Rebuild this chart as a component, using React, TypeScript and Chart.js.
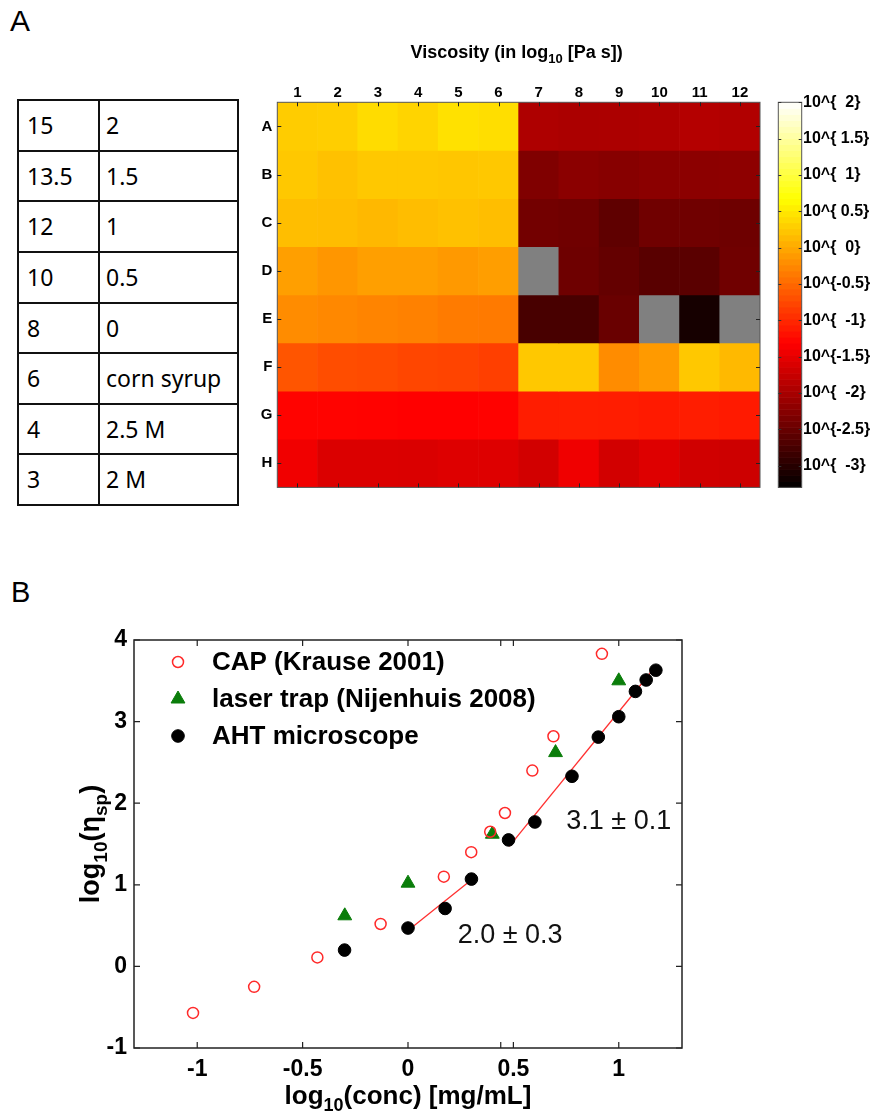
import React, { useEffect, useRef } from 'react';
import { Chart, registerables } from 'chart.js';
import { drawPoint } from 'chart.js/helpers';

Chart.register(...registerables);

const SANS = '"Liberation Sans", Arial, Helvetica, sans-serif';

// ---------- Panel A: table ----------
const tableConc = ['15', '13.5', '12', '10', '8', '6', '4', '3'];
const tableSolvent = ['2', '1.5', '1', '0.5', '0', 'corn syrup', '2.5 M', '2 M'];

// ---------- Panel A: heatmap (log10 values, null = no data) ----------
const heatColumns = ['1', '2', '3', '4', '5', '6', '7', '8', '9', '10', '11', '12'];
const heatRows = ['A', 'B', 'C', 'D', 'E', 'F', 'G', 'H'];
const rowA = [0.28, 0.29, 0.4, 0.34, 0.44, 0.42, -1.94, -1.97, -1.96, -1.94, -1.9, -1.92];
const rowB = [0.25, 0.19, 0.25, 0.25, 0.23, 0.25, -2.3, -2.22, -2.25, -2.22, -2.21, -2.19];
const rowC = [0.17, 0.16, 0.12, 0.16, 0.19, 0.17, -2.4, -2.43, -2.56, -2.43, -2.43, -2.44];
const rowD = [-0.07, -0.14, -0.07, -0.07, -0.12, -0.08, null, -2.44, -2.52, -2.61, -2.6, -2.43];
const rowE = [-0.22, -0.25, -0.28, -0.31, -0.35, -0.36, -2.74, -2.74, -2.48, null, -3.13, null];
const rowF = [-0.65, -0.71, -0.73, -0.77, -0.78, -0.82, 0.25, 0.25, -0.22, -0.11, 0.25, 0.13];
const rowG = [-1.29, -1.29, -1.3, -1.31, -1.31, -1.3, -1.09, -1.08, -1.09, -1.11, -1.09, -1.11];
const rowH = [-1.42, -1.59, -1.59, -1.6, -1.57, -1.57, -1.66, -1.43, -1.66, -1.57, -1.68, -1.7];
const heatValues: (number | null)[][] = [rowA, rowB, rowC, rowD, rowE, rowF, rowG, rowH];

const cbMin = -3.3;
const cbMax = 2;
const cbTicks = [2, 1.5, 1, 0.5, 0, -0.5, -1, -1.5, -2, -2.5, -3];
const cbTickLabels = [
  '10^{  2}', '10^{ 1.5}', '10^{  1}', '10^{ 0.5}', '10^{  0}', '10^{-0.5}',
  '10^{  -1}', '10^{-1.5}', '10^{  -2}', '10^{-2.5}', '10^{  -3}',
];

// ---------- Panel B: scatter ----------
const capX = [-1.02, -0.73, -0.43, -0.13, 0.17, 0.3, 0.39, 0.46, 0.59, 0.69, 0.92];
const capY = [-0.57, -0.25, 0.11, 0.52, 1.1, 1.4, 1.65, 1.88, 2.4, 2.82, 3.83];
const laserX = [-0.3, 0.0, 0.4, 0.7, 1.0];
const laserY = [0.62, 1.02, 1.62, 2.62, 3.5];
const ahtX = [-0.301, 0.0, 0.176, 0.301, 0.477, 0.602, 0.778, 0.903, 1.0, 1.079, 1.13, 1.176];
const ahtY = [0.2, 0.47, 0.71, 1.07, 1.55, 1.77, 2.33, 2.81, 3.06, 3.37, 3.51, 3.63];
const fit1X = [0.0, 0.3];
const fit1Y = [0.44, 1.06];
const fit2X = [0.48, 1.17];
const fit2Y = [1.47, 3.66];
const xTicks = [-1, -0.5, 0, 0.44, 0.5, 1];
const xTickLabels = ['-1', '-0.5', '0', '', '0.5', '1'];
const yTicks = [-1, 0, 1, 2, 3, 4];
const slopeLabels = ['2.0 \u00b1 0.3', '3.1 \u00b1 0.1'];
const slopeLabelX = [0.236, 0.751];
const slopeLabelY = [0.377, 1.776];

function clamp01(v: number) {
  return Math.max(0, Math.min(1, v));
}

function hotColor(v: number | null) {
  if (v === null || Number.isNaN(v)) return 'rgb(128,128,128)';
  const t = clamp01((v - cbMin) / (cbMax - cbMin));
  const r = clamp01(t / 0.375);
  const g = clamp01((t - 0.375) / 0.375);
  const b = clamp01((t - 0.75) / 0.25);
  return `rgb(${Math.round(r * 255)},${Math.round(g * 255)},${Math.round(b * 255)})`;
}

type Part = { text: string; sub?: boolean };

function drawParts(ctx: CanvasRenderingContext2D, parts: Part[], cx: number, baseline: number, size: number, weight: string) {
  const subSize = Math.round(size * 0.7);
  const widths = parts.map((p) => {
    ctx.font = `${weight} ${p.sub ? subSize : size}px ${SANS}`;
    return ctx.measureText(p.text).width;
  });
  const total = widths.reduce((a, b) => a + b, 0);
  let x = cx - total / 2;
  ctx.textAlign = 'left';
  ctx.textBaseline = 'alphabetic';
  parts.forEach((p, i) => {
    ctx.font = `${weight} ${p.sub ? subSize : size}px ${SANS}`;
    ctx.fillText(p.text, x, baseline + (p.sub ? size * 0.28 : 0));
    x += widths[i];
  });
}

const noGrid = { display: false, drawTicks: false, tickLength: 0 };

const heatPlugin = {
  id: 'heatDecor',
  afterDraw(chart: any) {
    const { ctx, chartArea: ca, scales } = chart;
    const xs = scales.x;
    const ys = scales.y;
    const cb = scales.cb;
    ctx.save();
    // frame
    ctx.strokeStyle = '#555';
    ctx.lineWidth = 1;
    ctx.strokeRect(ca.left, ca.top, ca.right - ca.left, ca.bottom - ca.top);
    // ticks
    ctx.strokeStyle = '#222';
    ctx.beginPath();
    heatColumns.forEach((_, i) => {
      const px = Math.round(xs.getPixelForValue(i)) + 0.5;
      ctx.moveTo(px, ca.top);
      ctx.lineTo(px, ca.top + 4);
      ctx.moveTo(px, ca.bottom);
      ctx.lineTo(px, ca.bottom - 4);
    });
    heatRows.forEach((_, r) => {
      const py = Math.round(ys.getPixelForValue(r + 0.5)) + 0.5;
      ctx.moveTo(ca.left, py);
      ctx.lineTo(ca.left + 4, py);
      ctx.moveTo(ca.right, py);
      ctx.lineTo(ca.right - 4, py);
    });
    ctx.stroke();

    // colorbar
    const x0 = ca.right + 18.3;
    const w = 23.4;
    const n = 64;
    for (let i = 0; i < n; i++) {
      const v0 = cbMin + ((cbMax - cbMin) * i) / n;
      const v1 = cbMin + ((cbMax - cbMin) * (i + 1)) / n;
      const yTop = cb.getPixelForValue(v1);
      const yBot = cb.getPixelForValue(v0);
      ctx.fillStyle = hotColor((v0 + v1) / 2);
      ctx.fillRect(x0, yTop, w, yBot - yTop + 0.6);
    }
    ctx.strokeStyle = '#555';
    ctx.strokeRect(x0, cb.getPixelForValue(cbMax), w, cb.getPixelForValue(cbMin) - cb.getPixelForValue(cbMax));
    ctx.strokeStyle = '#333';
    ctx.beginPath();
    cbTicks.forEach((v) => {
      const py = Math.round(cb.getPixelForValue(v)) + 0.5;
      ctx.moveTo(x0, py);
      ctx.lineTo(x0 + 3, py);
      ctx.moveTo(x0 + w, py);
      ctx.lineTo(x0 + w - 3, py);
    });
    ctx.stroke();

    // title
    ctx.fillStyle = '#000';
    drawParts(
      ctx,
      [{ text: 'Viscosity (in log' }, { text: '10', sub: true }, { text: ' [Pa s])' }],
      (ca.left + ca.right) / 2 - 2,
      58,
      18,
      'bold'
    );
    ctx.restore();
  },
};

function HeatmapChart() {
  const ref = useRef<HTMLCanvasElement | null>(null);
  useEffect(() => {
    if (!ref.current) return;
    const datasets = heatRows.map((row, r) => ({
      label: row,
      data: heatColumns.map(() => [r, r + 1]),
      backgroundColor: heatValues[r].map((v) => hotColor(v)),
      borderWidth: 0,
      grouped: false,
      barPercentage: 1,
      categoryPercentage: 1,
    }));
    const chart = new Chart(ref.current, {
      type: 'bar',
      data: { labels: heatColumns, datasets: datasets as any },
      options: {
        responsive: false,
        animation: false,
        devicePixelRatio: 1,
        layout: { padding: { left: 0, top: 0, right: 0, bottom: 32.7 } },
        plugins: { legend: { display: false }, tooltip: { enabled: false } },
        scales: {
          x: {
            type: 'category',
            position: 'top',
            offset: true,
            grid: noGrid,
            border: { display: false },
            ticks: {
              color: '#000',
              padding: 0,
              maxRotation: 0,
              autoSkip: false,
              font: { family: SANS, size: 15, weight: 'bold' },
            },
            afterFit: (s: any) => {
              s.height = 102.3;
            },
          },
          y: {
            type: 'linear',
            min: 0,
            max: 8,
            reverse: true,
            position: 'left',
            grid: noGrid,
            border: { display: false },
            afterBuildTicks: (s: any) => {
              s.ticks = heatRows.map((_, i) => ({ value: i + 0.5 }));
            },
            ticks: {
              color: '#000',
              padding: 5,
              autoSkip: false,
              font: { family: SANS, size: 15, weight: 'bold' },
              callback: (v: any) => heatRows[Math.floor(Number(v))] ?? '',
            },
            afterFit: (s: any) => {
              s.width = 37.3;
            },
          },
          cb: {
            type: 'linear',
            axis: 'y',
            min: cbMin,
            max: cbMax,
            position: 'right',
            grid: noGrid,
            border: { display: false },
            afterBuildTicks: (s: any) => {
              s.ticks = cbTicks.map((v) => ({ value: v }));
            },
            ticks: {
              color: '#000',
              padding: 43,
              autoSkip: false,
              font: { family: SANS, size: 16, weight: 'bold' },
              callback: (v: any) => {
                const i = cbTicks.indexOf(Number(v));
                return i >= 0 ? cbTickLabels[i] : '';
              },
            },
            afterFit: (s: any) => {
              s.width = 115;
            },
          },
        } as any,
      },
      plugins: [heatPlugin],
    });
    return () => chart.destroy();
  }, []);
  return (
    <canvas
      ref={ref}
      width={635}
      height={540}
      style={{ position: 'absolute', left: 240, top: 0, width: 635, height: 540, display: 'block' }}
    />
  );
}

const scatterPlugin = {
  id: 'scatterDecor',
  afterDraw(chart: any) {
    const { ctx, chartArea: ca, scales } = chart;
    const xs = scales.x;
    const ys = scales.y;
    ctx.save();
    // frame
    ctx.strokeStyle = '#222';
    ctx.lineWidth = 1.5;
    ctx.strokeRect(ca.left, ca.top, ca.right - ca.left, ca.bottom - ca.top);
    // ticks
    ctx.lineWidth = 1.2;
    ctx.beginPath();
    xTicks.forEach((v) => {
      const px = xs.getPixelForValue(v);
      ctx.moveTo(px, ca.bottom);
      ctx.lineTo(px, ca.bottom - 6);
      ctx.moveTo(px, ca.top);
      ctx.lineTo(px, ca.top + 6);
    });
    yTicks.forEach((v) => {
      const py = ys.getPixelForValue(v);
      ctx.moveTo(ca.left, py);
      ctx.lineTo(ca.left + 6, py);
      ctx.moveTo(ca.right, py);
      ctx.lineTo(ca.right - 6, py);
    });
    ctx.stroke();

    // legend
    const rowsY = [ca.top + 22, ca.top + 59, ca.top + 96];
    for (let i = 0; i < 3; i++) {
      const ds = chart.data.datasets[i];
      ctx.fillStyle = ds.backgroundColor;
      ctx.strokeStyle = ds.borderColor;
      ctx.lineWidth = ds.borderWidth;
      drawPoint(ctx, { pointStyle: ds.pointStyle, radius: ds.pointRadius, rotation: 0, borderWidth: ds.borderWidth } as any, ca.left + 44, rowsY[i]);
      ctx.fillStyle = '#000';
      ctx.font = `bold 26px ${SANS}`;
      ctx.textAlign = 'left';
      ctx.textBaseline = 'middle';
      ctx.fillText(ds.label, ca.left + 78, rowsY[i] + 1);
    }

    // slope annotations
    ctx.fillStyle = '#111';
    ctx.font = `27px ${SANS}`;
    ctx.textAlign = 'left';
    ctx.textBaseline = 'middle';
    slopeLabels.forEach((t, i) => {
      ctx.fillText(t, xs.getPixelForValue(slopeLabelX[i]), ys.getPixelForValue(slopeLabelY[i]));
    });

    // axis titles
    ctx.fillStyle = '#000';
    drawParts(
      ctx,
      [{ text: 'log' }, { text: '10', sub: true }, { text: '(conc) [mg/mL]' }],
      (ca.left + ca.right) / 2,
      544,
      26,
      'bold'
    );
    ctx.save();
    ctx.translate(99, (ca.top + ca.bottom) / 2);
    ctx.rotate(-Math.PI / 2);
    drawParts(
      ctx,
      [{ text: 'log' }, { text: '10', sub: true }, { text: '(\u03b7' }, { text: 'sp', sub: true }, { text: ')' }],
      0,
      0,
      27,
      'bold'
    );
    ctx.restore();
    ctx.restore();
  },
};

function ViscosityChart() {
  const ref = useRef<HTMLCanvasElement | null>(null);
  useEffect(() => {
    if (!ref.current) return;
    const pts = (xs: number[], ys: number[]) => xs.map((x, i) => ({ x, y: ys[i] }));
    const chart = new Chart(ref.current, {
      type: 'scatter',
      data: {
        datasets: [
          {
            label: 'CAP (Krause 2001)',
            data: pts(capX, capY),
            pointStyle: 'circle',
            pointRadius: 5.5,
            borderColor: '#ff2a2a',
            backgroundColor: 'rgba(255,255,255,0)',
            borderWidth: 1.5,
          },
          {
            label: 'laser trap (Nijenhuis 2008)',
            data: pts(laserX, laserY),
            pointStyle: 'triangle',
            pointRadius: 8,
            borderColor: '#0a7d0a',
            backgroundColor: '#0a7d0a',
            borderWidth: 1,
          },
          {
            label: 'AHT microscope',
            data: pts(ahtX, ahtY),
            pointStyle: 'circle',
            pointRadius: 6.3,
            borderColor: '#000',
            backgroundColor: '#000',
            borderWidth: 1,
          },
          {
            label: 'fit 1',
            data: pts(fit1X, fit1Y),
            showLine: true,
            pointRadius: 0,
            borderColor: '#ff3030',
            borderWidth: 1.3,
          },
          {
            label: 'fit 2',
            data: pts(fit2X, fit2Y),
            showLine: true,
            pointRadius: 0,
            borderColor: '#ff3030',
            borderWidth: 1.3,
          },
        ] as any,
      },
      options: {
        responsive: false,
        animation: false,
        devicePixelRatio: 1,
        layout: { padding: { left: 0, top: 80, right: 193, bottom: 0 } },
        plugins: { legend: { display: false }, tooltip: { enabled: false } },
        scales: {
          x: {
            type: 'linear',
            min: -1.3,
            max: 1.3,
            grid: noGrid,
            border: { display: false },
            afterBuildTicks: (s: any) => {
              s.ticks = xTicks.map((v) => ({ value: v }));
            },
            ticks: {
              color: '#000',
              padding: 8,
              autoSkip: false,
              maxRotation: 0,
              font: { family: SANS, size: 23, weight: 'bold' },
              callback: (v: any) => {
                const i = xTicks.indexOf(Number(v));
                return i >= 0 ? xTickLabels[i] : '';
              },
            },
            afterFit: (s: any) => {
              s.height = 71;
            },
          },
          y: {
            type: 'linear',
            min: -1,
            max: 4,
            grid: noGrid,
            border: { display: false },
            afterBuildTicks: (s: any) => {
              s.ticks = yTicks.map((v) => ({ value: v }));
            },
            ticks: {
              color: '#000',
              padding: 7,
              autoSkip: false,
              font: { family: SANS, size: 23, weight: 'bold' },
              callback: (v: any) => String(v),
            },
            afterFit: (s: any) => {
              s.width = 134;
            },
          },
        } as any,
      },
      plugins: [scatterPlugin],
    });
    return () => chart.destroy();
  }, []);
  return (
    <canvas
      ref={ref}
      width={875}
      height={559}
      style={{ position: 'absolute', left: 0, top: 560, width: 875, height: 559, display: 'block' }}
    />
  );
}

function DataTable() {
  const left = 18;
  const top = 100;
  const rowH = 50.625;
  const colX = [18, 99, 238];
  const cellFont: React.CSSProperties = {
    position: 'absolute',
    fontFamily: '"Noto Sans", "Open Sans", sans-serif',
    fontSize: 23,
    color: '#000',
    height: rowH,
    lineHeight: `${rowH}px`,
    whiteSpace: 'nowrap',
  };
  const lines: React.ReactNode[] = [];
  for (let i = 0; i <= tableConc.length; i++) {
    lines.push(
      <div
        key={`h${i}`}
        style={{ position: 'absolute', left: left - 1, top: top + i * rowH - 1, width: colX[2] - colX[0] + 2, height: 2, background: '#111' }}
      />
    );
  }
  colX.forEach((x, i) => {
    lines.push(
      <div
        key={`v${i}`}
        style={{ position: 'absolute', left: x - 1, top: top - 1, width: 2, height: rowH * tableConc.length + 2, background: '#111' }}
      />
    );
  });
  return (
    <>
      {tableConc.map((c, i) => (
        <div key={`c${i}`} style={{ ...cellFont, left: 27, top: top + i * rowH }}>
          {c}
        </div>
      ))}
      {tableSolvent.map((c, i) => (
        <div key={`s${i}`} style={{ ...cellFont, left: 106, top: top + i * rowH }}>
          {c}
        </div>
      ))}
      {lines}
    </>
  );
}

export default function App() {
  const panelLabel: React.CSSProperties = {
    position: 'absolute',
    fontFamily: SANS,
    lineHeight: 1,
    color: '#000',
  };
  return (
    <div
      style={{
        position: 'absolute',
        left: 0,
        top: 0,
        width: 875,
        height: 1119,
        background: '#fff',
        overflow: 'hidden',
      }}
    >
      <div style={{ ...panelLabel, left: 10, top: 6, fontSize: 30 }}>A</div>
      <div style={{ ...panelLabel, left: 11, top: 578, fontSize: 29 }}>B</div>
      <DataTable />
      <HeatmapChart />
      <ViscosityChart />
    </div>
  );
}
